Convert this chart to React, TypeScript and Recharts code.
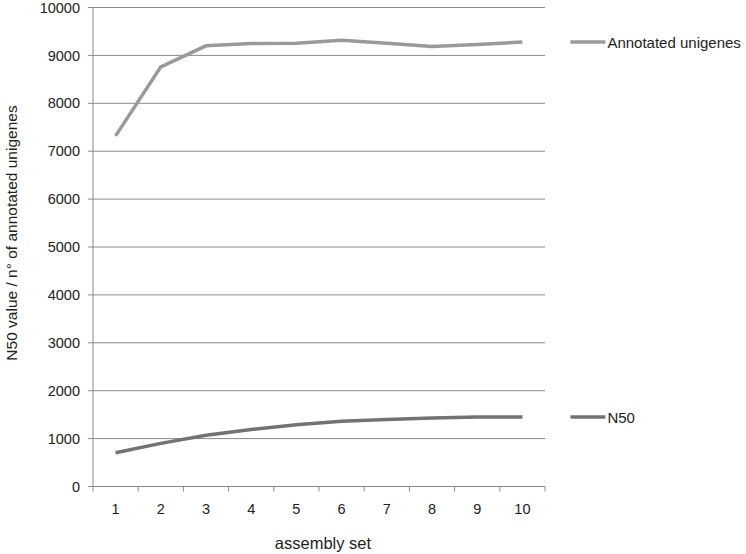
import { LineChart, Line, XAxis, YAxis, CartesianGrid } from 'recharts'

const assemblySets = ['1', '2', '3', '4', '5', '6', '7', '8', '9', '10']
const annotatedUnigenes = [7320, 8760, 9200, 9250, 9255, 9315, 9255, 9185, 9228, 9278]
const n50 = [705, 900, 1070, 1190, 1290, 1360, 1400, 1430, 1450, 1450]
const yTicks = [0, 1000, 2000, 3000, 4000, 5000, 6000, 7000, 8000, 9000, 10000]

const data = assemblySets.map((set, i) => ({
  set,
  annotated: annotatedUnigenes[i],
  n50: n50[i],
}))

const W = 746
const H = 554
const LEFT = 93
const RIGHT = 545
const BAND = (RIGHT - LEFT) / assemblySets.length
const FONT = '"Liberation Sans", Arial, sans-serif'
const AXIS = '#8a8a8a'

function XTick({ x, y, payload, index }: any) {
  const last = index === assemblySets.length - 1
  return (
    <g>
      <line x1={x - BAND / 2} x2={x - BAND / 2} y1={y} y2={y + 5} stroke={AXIS} />
      {last && <line x1={x + BAND / 2} x2={x + BAND / 2} y1={y} y2={y + 5} stroke={AXIS} />}
      <text x={x} y={y + 27} textAnchor="middle" fontSize={14.5} fill="#222" fontFamily={FONT}>
        {payload.value}
      </text>
    </g>
  )
}

// legend entry drawn next to the last point of each series
function endLegend(name: string, color: string) {
  return (props: any) => {
    const { x, y, index } = props
    if (index !== assemblySets.length - 1) return null
    return (
      <g>
        <line x1={x + 48} x2={x + 83} y1={y} y2={y} stroke={color} strokeWidth={3.5} />
        <text x={x + 85} y={y} dominantBaseline="central" fontSize={15} fill="#222" fontFamily={FONT}>
          {name}
        </text>
      </g>
    )
  }
}

export default function App() {
  const plotTop = 7.5
  const plotBottom = 486.5
  return (
    <div style={{ position: 'absolute', left: 0, top: 0, width: W, height: H, background: '#fff' }}>
      <LineChart
        width={W}
        height={H}
        data={data}
        margin={{ top: plotTop, right: W - RIGHT, bottom: 0, left: 0 }}
      >
        <CartesianGrid vertical={false} stroke={AXIS} strokeWidth={1} />
        <XAxis
          dataKey="set"
          scale="band"
          height={H - plotBottom}
          stroke={AXIS}
          tickLine={false}
          tickSize={0}
          tickMargin={0}
          tick={<XTick />}
          interval={0}
          label={{
            value: 'assembly set',
            position: 'insideBottom',
            offset: 5,
            dx: 4,
            fontSize: 16.5,
            fill: '#222',
            fontFamily: FONT,
          }}
        />
        <YAxis
          width={LEFT}
          domain={[0, 10000]}
          ticks={yTicks}
          interval={0}
          stroke={AXIS}
          tickSize={5}
          tickMargin={8}
          tick={{ fontSize: 14.5, fill: '#222', fontFamily: FONT }}
          label={() => {
            const cx = 11
            const cy = 233
            return (
              <text
                x={cx}
                y={cy}
                transform={`rotate(-90 ${cx} ${cy})`}
                textAnchor="middle"
                dominantBaseline="central"
                fontSize={15.5}
                fill="#222"
                fontFamily={FONT}
              >
                N50 value / n° of annotated unigenes
              </text>
            )
          }}
        />
        <Line
          dataKey="annotated"
          name="Annotated unigenes"
          stroke="#9a9a9a"
          strokeWidth={3.5}
          dot={false}
          type="linear"
          isAnimationActive={false}
          label={endLegend('Annotated unigenes', '#9a9a9a')}
        />
        <Line
          dataKey="n50"
          name="N50"
          stroke="#737373"
          strokeWidth={3.5}
          dot={false}
          type="linear"
          isAnimationActive={false}
          label={endLegend('N50', '#737373')}
        />
      </LineChart>
    </div>
  )
}
